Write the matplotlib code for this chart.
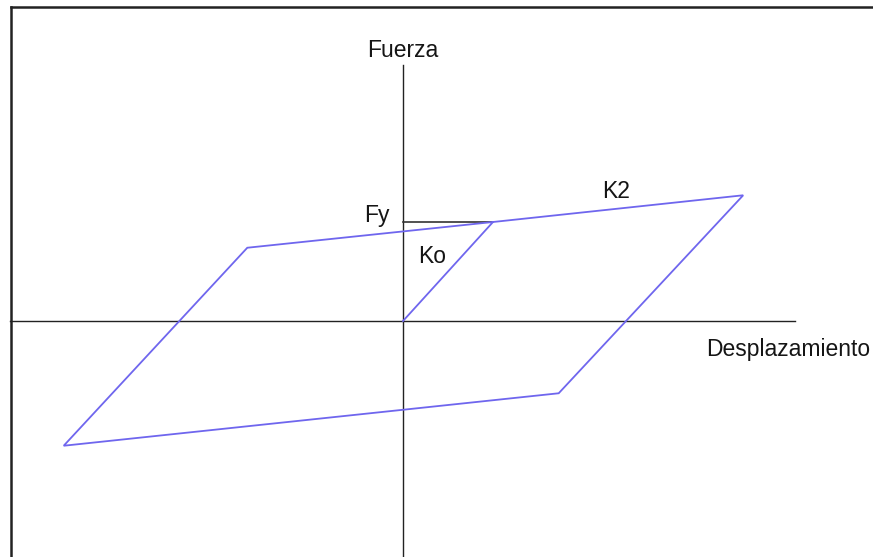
import matplotlib
matplotlib.use("Agg")
import matplotlib.pyplot as plt
from matplotlib.lines import Line2D

plt.rcParams['font.family'] = ['Liberation Sans', 'DejaVu Sans']

# Hysteresis loop (bilinear model), normalised units: Dy = 1, Fy = 1
disp = [0.0, 1.0, 3.78, 1.73, -3.77, -1.73, 1.0]
force = [0.0, 1.0, 1.27, -0.73, -1.26, 0.74, 1.0]

# Yield force reference line
fy_disp = [0.0, 1.0]
fy_force = [1.0, 1.0]

# Axis extents
x_axis_range = [-4.37, 4.36]
y_axis_range = [-2.39, 2.59]

labels = {"fuerza": "Fuerza", "desp": "Desplazamiento", "k2": "K2", "fy": "Fy", "ko": "Ko"}

W, H = 873, 557
fig = plt.figure(figsize=(W / 100, H / 100), dpi=100)
ax = fig.add_axes([0, 0, 1, 1])
ox, oy, sx, sy = 403, 321, 90.0, 99.0
ax.set_xlim((0 - ox) / sx, (W - ox) / sx)
ax.set_ylim((oy - H) / sy, (oy - 0) / sy)
ax.axis('off')

def px(x, y):
    return (x - ox) / sx, (oy - y) / sy

# Axes lines
ax.plot(x_axis_range, [0, 0], color='#222222', lw=1.0)
ax.plot([0, 0], y_axis_range, color='#222222', lw=1.0)

# Fy horizontal line
ax.plot(fy_disp, fy_force, color='#333333', lw=1.2)

# Loop
ax.plot(disp, force, color='#6f66ee', lw=1.3, solid_joinstyle='miter')

fs = 16.5
tc = '#151515'
ax.text(*px(403, 57), labels["fuerza"], ha='center', va='baseline', fontsize=fs, color=tc)
ax.text(*px(706, 356), labels["desp"], ha='left', va='baseline', fontsize=fs, color=tc)
ax.text(*px(602, 198), labels["k2"], ha='left', va='baseline', fontsize=fs, color=tc)
ax.text(*px(364, 222), labels["fy"], ha='left', va='baseline', fontsize=fs, color=tc)
ax.text(*px(418, 263), labels["ko"], ha='left', va='baseline', fontsize=fs, color=tc)

# Frame (left and top borders)
fig.add_artist(Line2D([10.5 / W, 10.5 / W], [0, 1 - 7 / H], transform=fig.transFigure,
                      color='#222222', lw=1.8))
fig.add_artist(Line2D([10.5 / W, 1], [1 - 7 / H, 1 - 7 / H], transform=fig.transFigure,
                      color='#222222', lw=1.8))

fig.savefig('out.png', dpi=100)
